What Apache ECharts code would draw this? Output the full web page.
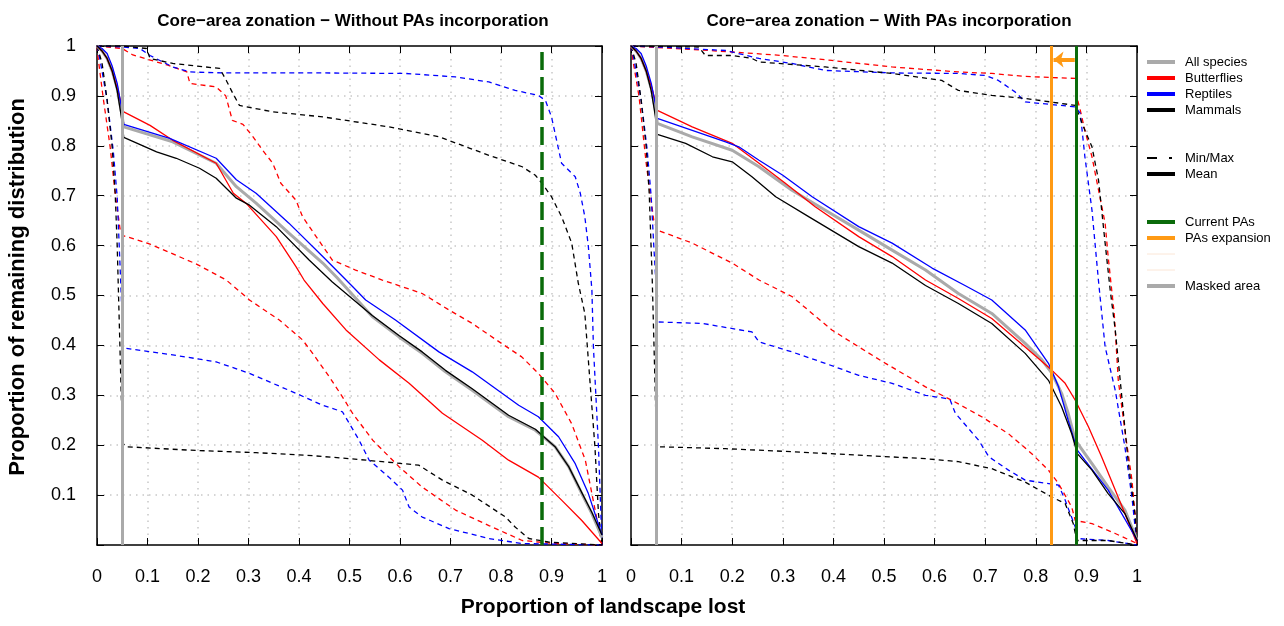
<!DOCTYPE html>
<html>
<head>
<meta charset="utf-8">
<title>Core-area zonation</title>
<script src="https://cdn.jsdelivr.net/npm/echarts@6/dist/echarts.min.js"></script>
<style>
  html, body { margin: 0; padding: 0; background: #fff; }
  #chart { width: 1284px; height: 626px; }
</style>
</head>
<body>
<div id="chart"></div>
<script>
// ---- data: [proportion of landscape lost, proportion of remaining distribution] ----
// left panel: without PAs incorporation
var leftAllMean = [[0,1],[0.01,0.99],[0.02,0.975],[0.03,0.95],[0.04,0.915],[0.048,0.87],[0.053,0.838],[0.15,0.808],[0.236,0.765],[0.276,0.718],[0.315,0.685],[0.38,0.625],[0.447,0.565],[0.476,0.535],[0.545,0.458],[0.598,0.417],[0.644,0.384],[0.69,0.347],[0.743,0.31],[0.815,0.257],[0.868,0.23],[0.907,0.197],[0.934,0.157],[0.96,0.103],[0.98,0.063],[1,0.015]];
var leftMammalMean = [[0,1],[0.01,0.99],[0.02,0.975],[0.03,0.95],[0.04,0.91],[0.048,0.86],[0.053,0.817],[0.118,0.788],[0.157,0.775],[0.203,0.755],[0.236,0.735],[0.276,0.695],[0.302,0.681],[0.355,0.638],[0.42,0.571],[0.466,0.527],[0.545,0.46],[0.598,0.42],[0.644,0.387],[0.69,0.35],[0.743,0.313],[0.815,0.26],[0.868,0.232],[0.907,0.197],[0.934,0.157],[0.96,0.105],[0.98,0.065],[1,0.02]];
var leftReptileMean = [[0,1],[0.01,0.995],[0.02,0.985],[0.03,0.96],[0.04,0.925],[0.048,0.88],[0.053,0.843],[0.144,0.815],[0.236,0.775],[0.276,0.732],[0.315,0.705],[0.38,0.645],[0.447,0.578],[0.506,0.518],[0.532,0.491],[0.591,0.451],[0.677,0.387],[0.743,0.347],[0.835,0.28],[0.874,0.257],[0.914,0.217],[0.947,0.163],[0.973,0.103],[1,0.02]];
var leftButterflyMean = [[0,1],[0.01,0.99],[0.02,0.975],[0.03,0.95],[0.04,0.915],[0.048,0.885],[0.053,0.868],[0.105,0.841],[0.15,0.811],[0.236,0.765],[0.27,0.705],[0.295,0.685],[0.355,0.618],[0.394,0.558],[0.41,0.531],[0.447,0.484],[0.493,0.431],[0.559,0.371],[0.618,0.324],[0.684,0.264],[0.763,0.21],[0.815,0.17],[0.874,0.136],[0.92,0.09],[0.96,0.049],[1,0.003]];
var leftButterflyMax = [[0,1],[0.05,0.995],[0.071,0.982],[0.139,0.962],[0.178,0.948],[0.184,0.925],[0.236,0.918],[0.255,0.9],[0.268,0.851],[0.289,0.843],[0.309,0.818],[0.328,0.791],[0.348,0.765],[0.364,0.725],[0.394,0.691],[0.407,0.658],[0.434,0.618],[0.466,0.571],[0.512,0.551],[0.565,0.531],[0.644,0.504],[0.697,0.471],[0.743,0.444],[0.801,0.404],[0.841,0.377],[0.874,0.344],[0.907,0.304],[0.94,0.243],[0.967,0.17],[0.98,0.103],[1,0]];
var leftButterflyMin = [[0,1],[0.002,0.978],[0.012,0.898],[0.026,0.798],[0.036,0.705],[0.046,0.631],[0.052,0.62],[0.105,0.603],[0.197,0.563],[0.256,0.531],[0.302,0.491],[0.361,0.451],[0.407,0.411],[0.427,0.384],[0.46,0.337],[0.486,0.297],[0.506,0.264],[0.546,0.21],[0.598,0.157],[0.644,0.116],[0.71,0.07],[0.776,0.039],[0.842,0.009],[0.907,0.003],[1,0]];
var leftReptileMax = [[0,1],[0.052,0.998],[0.085,0.995],[0.105,0.981],[0.15,0.958],[0.184,0.948],[0.25,0.946],[0.447,0.946],[0.611,0.945],[0.71,0.938],[0.776,0.928],[0.828,0.911],[0.874,0.901],[0.888,0.891],[0.9,0.858],[0.92,0.765],[0.947,0.738],[0.957,0.705],[0.966,0.658],[0.973,0.598],[0.98,0.511],[0.983,0.397],[0.993,0.197],[1,0]];
var leftReptileMin = [[0,1],[0.006,0.972],[0.02,0.892],[0.032,0.792],[0.04,0.697],[0.044,0.6],[0.048,0.5],[0.052,0.397],[0.058,0.394],[0.15,0.381],[0.236,0.367],[0.302,0.344],[0.394,0.304],[0.447,0.28],[0.486,0.267],[0.5,0.243],[0.519,0.21],[0.539,0.17],[0.578,0.136],[0.605,0.11],[0.618,0.076],[0.644,0.056],[0.697,0.033],[0.776,0.013],[0.841,0.003],[1,0]];
var leftMammalMax = [[0,1],[0.052,1],[0.098,0.995],[0.105,0.975],[0.15,0.965],[0.243,0.955],[0.256,0.931],[0.269,0.905],[0.282,0.881],[0.348,0.868],[0.447,0.858],[0.578,0.838],[0.677,0.818],[0.776,0.781],[0.842,0.758],[0.868,0.741],[0.881,0.725],[0.9,0.698],[0.92,0.658],[0.94,0.605],[0.953,0.525],[0.966,0.464],[0.976,0.33],[0.986,0.197],[0.993,0.063],[1,0]];
var leftMammalMin = [[0,1],[0.01,0.966],[0.02,0.892],[0.03,0.798],[0.036,0.705],[0.04,0.6],[0.044,0.45],[0.048,0.3],[0.052,0.203],[0.058,0.197],[0.184,0.19],[0.315,0.185],[0.414,0.18],[0.5,0.173],[0.565,0.167],[0.637,0.16],[0.684,0.13],[0.743,0.1],[0.809,0.056],[0.828,0.036],[0.855,0.013],[0.894,0.006],[1,0]];

// right panel: with PAs incorporation
var rightAllMean = [[0,1],[0.01,0.99],[0.02,0.975],[0.03,0.95],[0.04,0.915],[0.048,0.875],[0.052,0.845],[0.121,0.818],[0.2,0.791],[0.253,0.758],[0.318,0.711],[0.384,0.671],[0.45,0.631],[0.516,0.591],[0.582,0.551],[0.647,0.504],[0.713,0.464],[0.779,0.404],[0.812,0.371],[0.832,0.344],[0.851,0.304],[0.864,0.264],[0.878,0.21],[0.911,0.163],[0.943,0.116],[0.976,0.07],[1,0.01]];
var rightMammalMean = [[0,1],[0.01,0.99],[0.02,0.975],[0.03,0.95],[0.04,0.91],[0.048,0.86],[0.052,0.823],[0.108,0.805],[0.161,0.778],[0.2,0.768],[0.239,0.738],[0.286,0.698],[0.351,0.658],[0.45,0.598],[0.516,0.565],[0.582,0.52],[0.647,0.484],[0.713,0.444],[0.779,0.384],[0.825,0.33],[0.851,0.277],[0.871,0.223],[0.882,0.183],[0.911,0.15],[0.943,0.103],[0.976,0.063],[1,0.01]];
var rightReptileMean = [[0,1],[0.01,0.995],[0.02,0.985],[0.03,0.96],[0.04,0.925],[0.048,0.885],[0.052,0.855],[0.121,0.831],[0.187,0.808],[0.213,0.798],[0.253,0.771],[0.3,0.741],[0.358,0.698],[0.45,0.638],[0.516,0.605],[0.595,0.555],[0.66,0.52],[0.713,0.491],[0.779,0.431],[0.825,0.364],[0.845,0.317],[0.864,0.25],[0.882,0.19],[0.897,0.17],[0.943,0.11],[1,0.01]];
var rightButterflyMean = [[0,1],[0.01,0.99],[0.02,0.975],[0.03,0.95],[0.04,0.92],[0.048,0.89],[0.052,0.871],[0.121,0.838],[0.2,0.805],[0.253,0.765],[0.305,0.725],[0.364,0.678],[0.45,0.618],[0.516,0.578],[0.582,0.531],[0.647,0.494],[0.713,0.454],[0.779,0.397],[0.832,0.35],[0.858,0.324],[0.878,0.29],[0.904,0.237],[0.93,0.177],[0.957,0.11],[0.976,0.063],[1,0.003]];
var rightButterflyMax = [[0,1],[0.121,0.993],[0.2,0.988],[0.299,0.981],[0.397,0.971],[0.516,0.958],[0.647,0.948],[0.713,0.945],[0.779,0.939],[0.878,0.935],[0.881,0.898],[0.888,0.871],[0.897,0.831],[0.911,0.778],[0.924,0.711],[0.937,0.645],[0.943,0.578],[0.95,0.511],[0.955,0.464],[0.963,0.33],[0.976,0.23],[0.99,0.13],[0.996,0.063],[1,0]];
var rightButterflyMin = [[0,1],[0.004,0.97],[0.016,0.898],[0.03,0.765],[0.045,0.651],[0.052,0.631],[0.121,0.605],[0.2,0.565],[0.253,0.531],[0.318,0.498],[0.397,0.431],[0.45,0.397],[0.503,0.364],[0.582,0.317],[0.634,0.29],[0.693,0.257],[0.746,0.223],[0.792,0.183],[0.825,0.15],[0.845,0.123],[0.871,0.076],[0.878,0.049],[0.911,0.043],[0.957,0.023],[1,0.003]];
var rightReptileMax = [[0,1],[0.055,0.998],[0.187,0.991],[0.253,0.975],[0.318,0.965],[0.384,0.951],[0.516,0.946],[0.647,0.945],[0.7,0.941],[0.726,0.931],[0.759,0.908],[0.779,0.888],[0.878,0.878],[0.888,0.865],[0.897,0.778],[0.911,0.671],[0.924,0.528],[0.937,0.397],[0.957,0.31],[0.976,0.197],[0.99,0.096],[1,0]];
var rightReptileMin = [[0,1],[0.006,0.972],[0.02,0.892],[0.032,0.792],[0.04,0.697],[0.045,0.6],[0.049,0.531],[0.052,0.447],[0.141,0.444],[0.239,0.427],[0.253,0.407],[0.318,0.387],[0.384,0.364],[0.45,0.34],[0.516,0.324],[0.582,0.3],[0.621,0.294],[0.631,0.29],[0.641,0.264],[0.687,0.21],[0.707,0.177],[0.746,0.15],[0.779,0.13],[0.845,0.12],[0.858,0.09],[0.878,0.036],[0.881,0.013],[0.943,0.009],[1,0]];
var rightMammalMax = [[0,1],[0.134,0.998],[0.147,0.981],[0.2,0.981],[0.239,0.975],[0.253,0.968],[0.384,0.958],[0.516,0.945],[0.614,0.931],[0.647,0.911],[0.713,0.901],[0.779,0.895],[0.878,0.881],[0.897,0.831],[0.911,0.798],[0.924,0.731],[0.937,0.605],[0.947,0.511],[0.957,0.431],[0.97,0.297],[0.983,0.163],[0.996,0.063],[1,0]];
var rightMammalMin = [[0,1],[0.01,0.966],[0.02,0.892],[0.03,0.798],[0.036,0.705],[0.042,0.531],[0.049,0.264],[0.052,0.197],[0.187,0.193],[0.318,0.187],[0.45,0.18],[0.582,0.173],[0.647,0.167],[0.713,0.153],[0.779,0.126],[0.832,0.096],[0.858,0.083],[0.874,0.043],[0.881,0.009],[0.943,0.009],[1,0]];

// reference lines
var maskedArea = 0.052;
var currentPAs = 0.88;
var expansionPAs = 0.83;
var arrowLevel = 0.973;

var panelTitles = ['Core\u2212area zonation \u2212 Without PAs incorporation', 'Core\u2212area zonation \u2212 With PAs incorporation'];
var legendNames = ['All species', 'Butterflies', 'Reptiles', 'Mammals', 'Min/Max', 'Mean', 'Current PAs', 'PAs expansion', 'Masked area'];

var FONT = 'Liberation Sans, Arial, sans-serif';
var RED = '#ff0000', BLUE = '#0000ff', BLACK = '#000000', GREY = '#aaaaaa', GREEN = '#0a6b0a', ORANGE = '#ff9a14';

var myChart = echarts.init(document.getElementById('chart'));

function curve(data, color, width, dashed, panel) {
	return {
		type: 'line',
		xAxisIndex: panel * 2,
		yAxisIndex: panel * 2,
		data: data,
		showSymbol: false,
		silent: true,
		animation: false,
		lineStyle: { color: color, width: width, type: dashed ? [5, 4] : 'solid' }
	};
}

function vline(value, color, width, type) {
	return { xAxis: value, lineStyle: { color: color, width: width, type: type } };
}

var dotted = { color: '#c8c8c8', type: [1.5, 5], width: 1.5 };
var frame = { color: '#000', width: 1.5 };

function xAx(grid, top) {
	return {
		gridIndex: grid, type: 'value', min: 0, max: 1, interval: 0.1,
		position: top ? 'top' : 'bottom',
		axisLine: { show: true, onZero: false, lineStyle: frame },
		axisTick: { show: true, inside: true, length: 7, lineStyle: { color: '#000' } },
		axisLabel: {
			show: !top, margin: 23, color: '#000', fontSize: 18, fontFamily: FONT
		},
		splitLine: { show: !top, showMinLine: false, showMaxLine: false, lineStyle: dotted }
	};
}

function yAx(grid, right, labels) {
	return {
		gridIndex: grid, type: 'value', min: 0, max: 1, interval: 0.1,
		position: right ? 'right' : 'left',
		axisLine: { show: true, onZero: false, lineStyle: frame },
		axisTick: { show: true, inside: true, length: 7, lineStyle: { color: '#000' } },
		axisLabel: {
			show: labels, margin: 21, color: '#000', fontSize: 18, fontFamily: FONT,
			formatter: function (v) { return v === 0 ? '' : String(v); }
		},
		splitLine: { show: !right, showMinLine: false, showMaxLine: false, lineStyle: dotted }
	};
}

function panelSeries(panel, all, bMean, rMean, mMean, bMax, bMin, rMax, rMin, mMax, mMin) {
	var s = [
		curve(bMax, RED, 1.3, true, panel),
		curve(bMin, RED, 1.3, true, panel),
		curve(rMax, BLUE, 1.3, true, panel),
		curve(rMin, BLUE, 1.3, true, panel),
		curve(mMax, BLACK, 1.3, true, panel),
		curve(mMin, BLACK, 1.3, true, panel),
		curve(all, GREY, 3, false, panel),
		curve(bMean, RED, 1.3, false, panel),
		curve(rMean, BLUE, 1.3, false, panel),
		curve(mMean, BLACK, 1.3, false, panel)
	];
	var lines = [vline(maskedArea, GREY, 3, 'solid')];
	if (panel === 0) {
		lines.push(vline(currentPAs, GREEN, 3.5, [18, 7]));
	} else {
		lines.push(vline(expansionPAs, ORANGE, 3, 'solid'));
		lines.push(vline(currentPAs, GREEN, 3, 'solid'));
		lines.push([
			{ coord: [currentPAs - 0.003, arrowLevel], symbol: 'none' },
			{ coord: [expansionPAs + 0.005, arrowLevel], symbol: 'arrow', symbolSize: [12, 10],
				lineStyle: { color: ORANGE, width: 4, type: 'solid' } }
		]);
	}
	s.push({
		type: 'line', xAxisIndex: panel * 2, yAxisIndex: panel * 2, data: [],
		silent: true, animation: false,
		markLine: { silent: true, symbol: 'none', label: { show: false }, animation: false, data: lines }
	});
	return s;
}

// legend drawn as graphic elements
var legendRows = [
	{ name: legendNames[0], y: 62, color: GREY, width: 4 },
	{ name: legendNames[1], y: 78, color: RED, width: 4 },
	{ name: legendNames[2], y: 94, color: BLUE, width: 4 },
	{ name: legendNames[3], y: 110, color: BLACK, width: 4 },
	{ name: legendNames[4], y: 158, color: BLACK, width: 2, dash: [10, 12], x2: 1172 },
	{ name: legendNames[5], y: 174, color: BLACK, width: 4 },
	{ name: legendNames[6], y: 222, color: GREEN, width: 4 },
	{ name: legendNames[7], y: 238, color: ORANGE, width: 4 },
	{ name: '', y: 254, color: '#fbe6d6', width: 1 },
	{ name: '', y: 270, color: '#fbe6d6', width: 1 },
	{ name: legendNames[8], y: 286, color: GREY, width: 4 }
];
var graphics = [];
legendRows.forEach(function (r) {
	graphics.push({
		type: 'line', shape: { x1: 1147, y1: r.y, x2: r.x2 || 1175, y2: r.y },
		style: { stroke: r.color, lineWidth: r.width, lineDash: r.dash || null }
	});
	if (r.name) {
		graphics.push({
			type: 'text', x: 1185, y: r.y,
			style: { text: r.name, fill: '#000', font: '13px ' + FONT, textVerticalAlign: 'middle' }
		});
	}
});
graphics.push({
	type: 'text', x: 603, y: 607,
	style: { text: 'Proportion of landscape lost', fill: '#000', font: 'bold 21px ' + FONT, textAlign: 'center', textVerticalAlign: 'middle' }
});
graphics.push({
	type: 'text', x: 18, y: 287, rotation: Math.PI / 2,
	style: { text: 'Proportion of remaining distribution', fill: '#000', font: 'bold 22px ' + FONT, textAlign: 'center', textVerticalAlign: 'middle' }
});

var option = {
	backgroundColor: '#fff',
	animation: false,
	title: [
		{ text: panelTitles[0], left: 348, top: 8, textAlign: 'center', textStyle: { fontSize: 17, fontWeight: 'bold', color: '#000', fontFamily: FONT } },
		{ text: panelTitles[1], left: 884, top: 8, textAlign: 'center', textStyle: { fontSize: 17, fontWeight: 'bold', color: '#000', fontFamily: FONT } }
	],
	grid: [
		{ left: 97, top: 46, width: 505, height: 499 },
		{ left: 631, top: 46, width: 506, height: 499 }
	],
	xAxis: [xAx(0, false), xAx(0, true), xAx(1, false), xAx(1, true)],
	yAxis: [yAx(0, false, true), yAx(0, true, false), yAx(1, false, false), yAx(1, true, false)],
	series: [].concat(
		panelSeries(0, leftAllMean, leftButterflyMean, leftReptileMean, leftMammalMean,
			leftButterflyMax, leftButterflyMin, leftReptileMax, leftReptileMin, leftMammalMax, leftMammalMin),
		panelSeries(1, rightAllMean, rightButterflyMean, rightReptileMean, rightMammalMean,
			rightButterflyMax, rightButterflyMin, rightReptileMax, rightReptileMin, rightMammalMax, rightMammalMin)
	),
	graphic: graphics
};

myChart.setOption(option);
</script>
</body>
</html>
